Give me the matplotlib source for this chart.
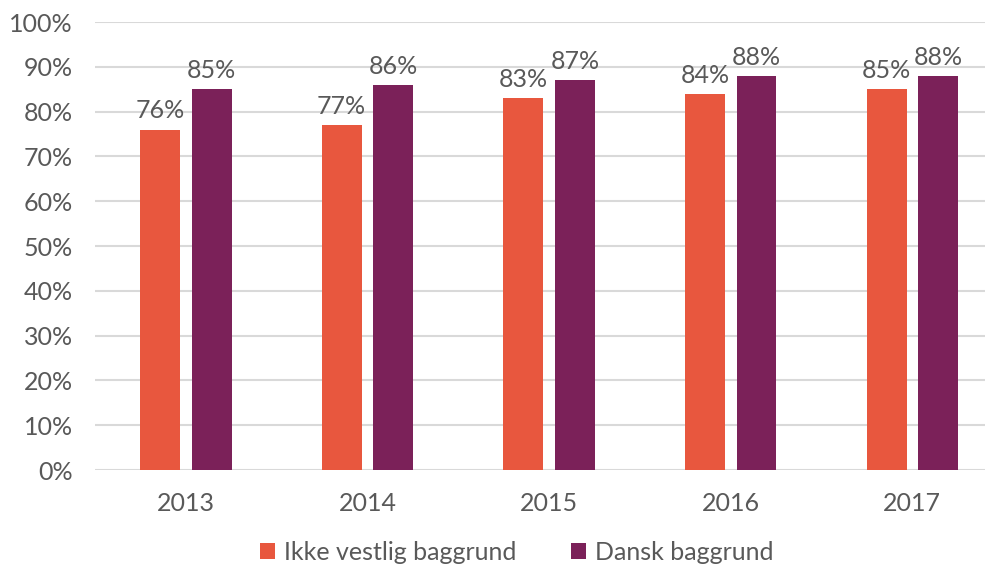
import matplotlib.pyplot as plt
import numpy as np

years = ['2013', '2014', '2015', '2016', '2017']
ikke_vestlig = [76, 77, 83, 84, 85]
dansk = [85, 86, 87, 88, 88]
series_names = ['Ikke vestlig baggrund', 'Dansk baggrund']
colors = ['#E8573E', '#7B2159']
yticks = list(range(0, 101, 10))

plt.rcParams['font.family'] = ['Lato', 'DejaVu Sans']
text_color = '#595959'
fs = 18

fig = plt.figure(figsize=(9.88, 5.66), dpi=100)
ax = fig.add_axes([95 / 988, 1 - 470 / 566, 890 / 988, 448 / 566])

x = np.arange(len(years))
w = 0.22
off = 0.142
b1 = ax.bar(x - off, ikke_vestlig, w, color=colors[0], label=series_names[0], zorder=3)
b2 = ax.bar(x + off, dansk, w, color=colors[1], label=series_names[1], zorder=3)

for bars, vals in [(b1, ikke_vestlig), (b2, dansk)]:
    for r, v in zip(bars, vals):
        ax.text(r.get_x() + r.get_width() / 2, v + 1.6, f'{v}%', ha='center', va='bottom',
                fontsize=fs, color=text_color, zorder=4)

ax.set_xlim(-0.5, 4.4)
ax.set_ylim(0, 100)
ax.set_yticks(yticks)
ax.set_yticklabels([f'{t}%' for t in yticks])
ax.set_xticks(x)
ax.set_xticklabels(years)
ax.yaxis.grid(True, color='#d9d9d9', linewidth=1.5, zorder=0)
ax.tick_params(axis='both', length=0, labelsize=fs, colors=text_color)
ax.tick_params(axis='y', pad=16)
ax.tick_params(axis='x', pad=16)
for s in ax.spines.values():
    s.set_visible(False)

fig.legend(handles=[b1, b2], labels=series_names, loc='center', bbox_to_anchor=(517 / 988, 1 - 552 / 566),
           ncol=2, frameon=False, fontsize=fs, labelcolor=text_color, handlelength=0.6, handleheight=0.6,
           handletextpad=0.35, columnspacing=2.2)

fig.savefig('out.png', dpi=100)
